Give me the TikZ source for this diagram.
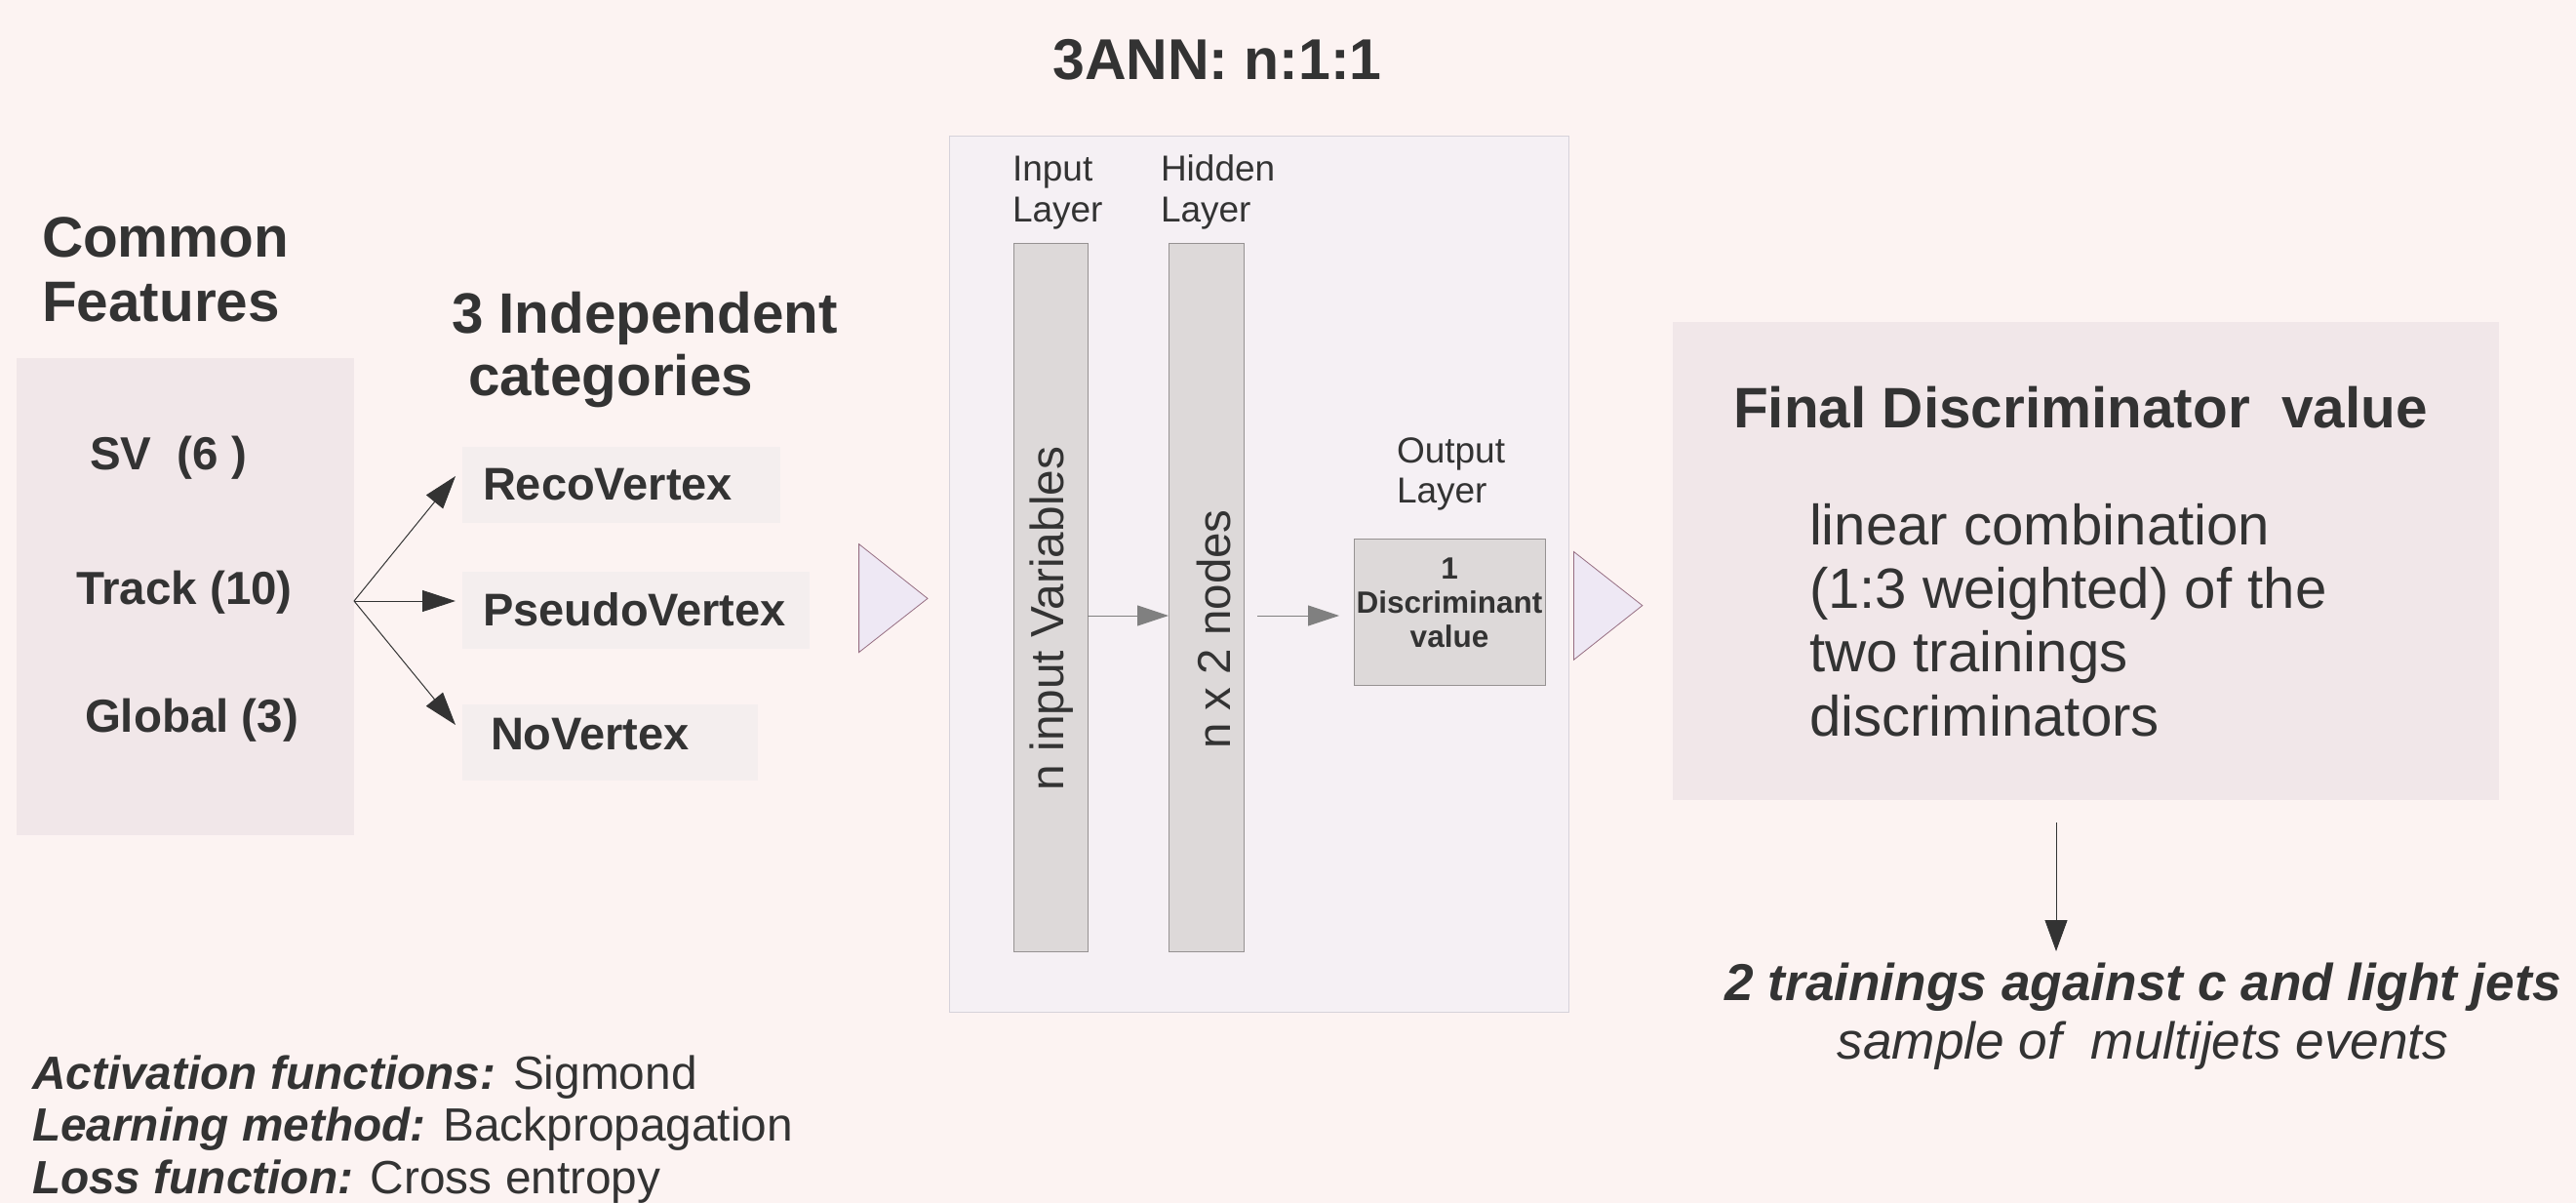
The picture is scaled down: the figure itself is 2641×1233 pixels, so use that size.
\documentclass[tikz,border=0pt]{standalone}
\usepackage{fontspec}
\setmainfont{Liberation Sans}
\usetikzlibrary{arrows.meta}

\definecolor{bg}{RGB}{252,243,242}
\definecolor{ink}{RGB}{51,51,51}
\definecolor{featfill}{RGB}{241,231,233}
\definecolor{catfill}{RGB}{244,238,238}
\definecolor{nnfill}{RGB}{245,240,244}
\definecolor{nnline}{RGB}{214,210,218}
\definecolor{barfill}{RGB}{221,217,217}
\definecolor{barline}{RGB}{150,146,146}
\definecolor{trifill}{RGB}{238,232,244}
\definecolor{triline}{RGB}{150,110,130}
\definecolor{flowgray}{RGB}{128,128,128}

\newcommand\fsz[1]{\fontsize{#1}{#1}\selectfont}

\begin{document}
\begin{tikzpicture}[x=1pt,y=-1pt,
  lbl/.style={inner sep=0pt, outer sep=0pt, text=ink, anchor=base west},
  panel/.style={inner sep=0pt, outer sep=0pt, anchor=north west},
  darrow/.style={draw=ink, line width=1pt, -{Triangle[length=34pt,width=22pt]}},
  garrow/.style={draw=flowgray, line width=1pt, -{Triangle[length=32pt,width=21pt]}},
  tri/.style={fill=trifill, draw=triline, line width=0.8pt}]

% page
\fill[bg] (0,0) rectangle (2641,1233);
\useasboundingbox (0,0) rectangle (2641,1233);

% title
\node[lbl, anchor=base] (title) at (1248,82) {\fsz{59}\bfseries 3ANN: n:1:1};

% common features
\node[lbl] (cfA) at (43,264) {\fsz{58.5}\bfseries Common};
\node[lbl] (cfB) at (43,329) {\fsz{58.5}\bfseries Features};
\node[panel, fill=featfill, minimum width=346pt, minimum height=489pt] (feat) at (17,367) {};
\node[lbl] (sv) at (92,481) {\fsz{47.5}\bfseries SV~ (6 )};
\node[lbl] (track) at (78,619) {\fsz{47.5}\bfseries Track (10)};
\node[lbl] (global) at (87,750) {\fsz{47.5}\bfseries Global (3)};

% categories
\node[lbl] (indA) at (463,341) {\fsz{58.4}\bfseries 3 Independent};
\node[lbl] (indB) at (480,405) {\fsz{58.4}\bfseries categories};
\node[panel, fill=catfill, minimum width=326pt, minimum height=78pt] (reco) at (474,458) {};
\node[panel, fill=catfill, minimum width=356pt, minimum height=79pt] (pseudo) at (474,586) {};
\node[panel, fill=catfill, minimum width=303pt, minimum height=78pt] (novtx) at (474,722) {};
\node[lbl] (recoT) at (495,512) {\fsz{47}\bfseries RecoVertex};
\node[lbl] (pseudoT) at (495,641) {\fsz{47}\bfseries PseudoVertex};
\node[lbl] (novtxT) at (503,768) {\fsz{47}\bfseries NoVertex};

% fan of arrows into the categories
\coordinate (fan) at (feat.east |- 0,616);
\coordinate (tipR) at (467,488);
\coordinate (tipP) at (467,616);
\coordinate (tipN) at (467,743);
\draw[darrow] (fan) -- (tipR);
\draw[darrow] (fan) -- (tipP);
\draw[darrow] (fan) -- (tipN);

% network block
\draw[tri] (880.6,557.6) -- (951,613.4) -- (880.6,668.6) -- cycle;
\node[panel, fill=nnfill, draw=nnline, line width=1pt, minimum width=635pt, minimum height=897pt] (nn) at (973,140) {};
\node[lbl] (inA) at (1038,186) {\fsz{37}Input};
\node[lbl] (inB) at (1038,228) {\fsz{37}Layer};
\node[lbl] (hidA) at (1190,186) {\fsz{37}Hidden};
\node[lbl] (hidB) at (1190,228) {\fsz{37}Layer};
\node[panel, fill=barfill, draw=barline, line width=1pt, minimum width=76pt, minimum height=725pt] (inbar) at (1039,250) {};
\node[panel, fill=barfill, draw=barline, line width=1pt, minimum width=77pt, minimum height=725pt] (hidbar) at (1198,250) {};
\node[lbl, anchor=base, rotate=90] (inT) at (1090,634) {\fsz{47.8}n input Variables};
\node[lbl, anchor=base, rotate=90] (hidT) at (1261,645) {\fsz{47.5}n x 2 nodes};
\node[lbl] (outA) at (1432,474) {\fsz{37}Output};
\node[lbl] (outB) at (1432,515) {\fsz{37}Layer};
\node[panel, fill=barfill, draw=barline, line width=1pt, minimum width=196pt, minimum height=150pt] (outbox) at (1388,552) {};
\node[lbl, anchor=base] (outT1) at (outbox.center |- 0,593) {\fsz{31.5}\bfseries 1};
\node[lbl, anchor=base] (outT2) at (outbox.center |- 0,628) {\fsz{31.5}\bfseries Discriminant};
\node[lbl, anchor=base] (outT3) at (outbox.center |- 0,663) {\fsz{31.5}\bfseries value};
\coordinate (flow) at (0,631);
\draw[garrow] (inbar.east |- flow) -- (hidbar.west |- flow);
\draw[garrow, shorten <=14pt, shorten >=15pt] (hidbar.east |- flow) -- (outbox.west |- flow);
\draw[tri] (1613.4,565.4) -- (1683.8,620.6) -- (1613.4,676.3) -- cycle;

% final discriminator
\node[panel, fill=featfill, minimum width=847pt, minimum height=490pt] (final) at (1715,330) {};
\node[lbl] (finT) at (1777,438) {\fsz{58.5}\bfseries Final Discriminator~ value};
\node[lbl] (linA) at (1855,558) {\fsz{58.2}linear combination};
\node[lbl] (linB) at (1855,623) {\fsz{58.2}(1:3 weighted) of the};
\node[lbl] (linC) at (1855,688) {\fsz{58.2}two trainings};
\node[lbl] (linD) at (1855,754) {\fsz{58.2}discriminators};

% trainings
\coordinate (downA) at (2108,843);
\coordinate (downB) at (2108,975);
\draw[darrow, -{Triangle[length=32pt,width=23pt]}] (downA) -- (downB);
\node[lbl, anchor=base] (trA) at (2197,1025) {\fsz{53.2}\bfseries\itshape 2 trainings against c and light jets};
\node[lbl, anchor=base] (trB) at (2197,1085) {\fsz{53.2}\itshape sample of~ multijets events};

% training settings
\node[lbl] (setA) at (33,1116) {\fsz{47.8}{\bfseries\itshape Activation functions:} Sigmond};
\node[lbl] (setB) at (33,1169) {\fsz{47.8}{\bfseries\itshape Learning method:} Backpropagation};
\node[lbl] (setC) at (33,1223) {\fsz{47.8}{\bfseries\itshape Loss function:} Cross entropy};
\end{tikzpicture}
\end{document}
